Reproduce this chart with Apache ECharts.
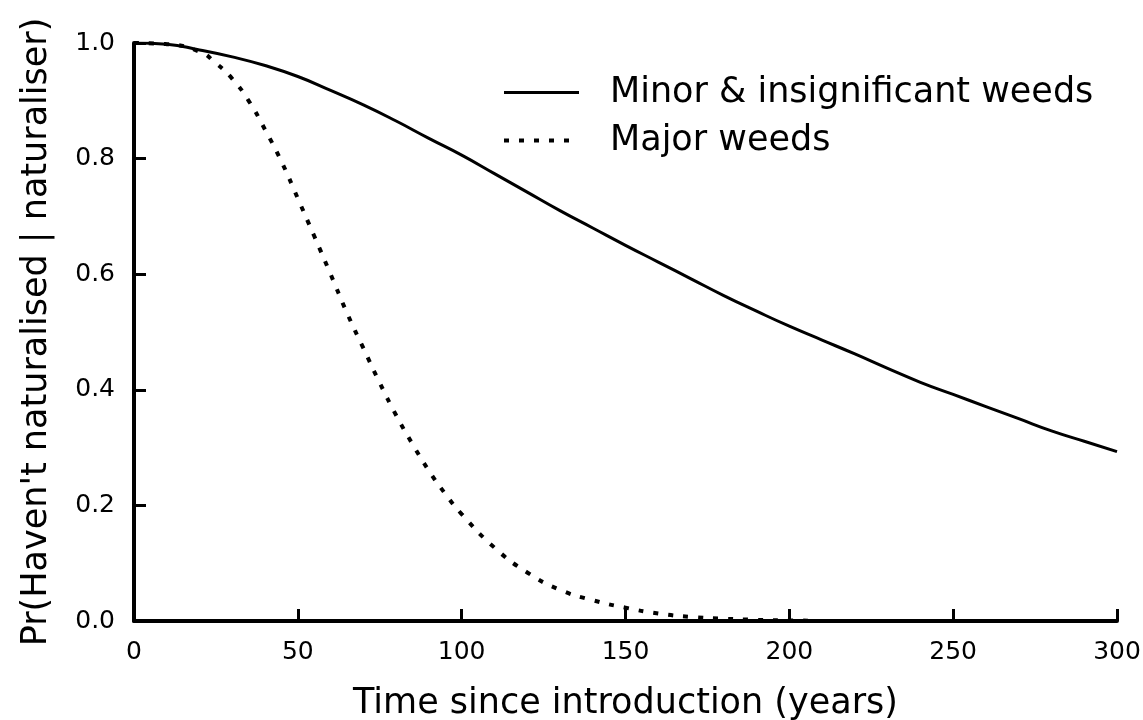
<!DOCTYPE html>
<html>
<head>
<meta charset="utf-8">
<script src="https://cdn.jsdelivr.net/npm/echarts@6/dist/echarts.min.js"></script>
<style>html,body{margin:0;padding:0;background:#fff}#c{width:1143px;height:720px}</style>
</head>
<body>
<div id="c"></div>
<script>
const minorYears = [0,10,20,30,40,50,60,70,80,90,100,110,120,130,140,150,160,170,180,190,200,210,220,230,240,250,260,270,280,290,300];
const minorValues = [1.0,0.998,0.988,0.976,0.961,0.942,0.918,0.893,0.865,0.835,0.806,0.774,0.742,0.710,0.680,0.650,0.621,0.592,0.563,0.536,0.510,0.486,0.462,0.437,0.413,0.392,0.371,0.350,0.329,0.311,0.293];
const majorYears = [0,10,20,25,30,35,40,45,50,55,60,65,70,75,80,85,90,95,100,110,120,130,140,150,160,170,180,190,200,208];
const majorValues = [1.0,0.998,0.985,0.965,0.938,0.900,0.850,0.795,0.731,0.666,0.600,0.533,0.472,0.412,0.356,0.306,0.260,0.220,0.185,0.127,0.084,0.054,0.036,0.023,0.013,0.007,0.004,0.002,0.001,0.0005];
const seriesNames = ['Minor & insignificant weeds', 'Major weeds'];
const xTitle = 'Time since introduction (years)';
const yTitle = "Pr(Haven't naturalised | naturaliser)";

const FONT = 'DejaVu Sans';
const chart = echarts.init(document.getElementById('c'), null, {renderer: 'canvas'});
chart.setOption({
  animation: false,
  backgroundColor: '#fff',
  grid: {left: 134, right: 26, top: 43, bottom: 99, containLabel: false, outerBoundsMode: 'none'},
  legend: {
    orient: 'vertical', left: 497, top: 70,
    itemWidth: 75, itemHeight: 14, itemGap: 13,
    itemStyle: {opacity: 0},
    textStyle: {fontFamily: FONT, fontSize: 35, color: '#000', padding: [0,0,0,26]},
    data: [
      {name: seriesNames[0], lineStyle: {width: 3, color: '#000', type: 'solid'}},
      {name: seriesNames[1], lineStyle: {width: 4, color: '#000', type: [5, 10]}}
    ]
  },
  xAxis: {
    type: 'value', min: 0, max: 300, interval: 50,
    name: xTitle, nameLocation: 'middle', nameGap: 65,
    nameTextStyle: {fontFamily: FONT, fontSize: 35, color: '#000'},
    axisLine: {show: true, lineStyle: {color: '#000', width: 4}},
    axisTick: {show: true, inside: true, length: 12, lineStyle: {color: '#000', width: 3}},
    axisLabel: {fontFamily: FONT, fontSize: 25, color: '#000', margin: 19},
    splitLine: {show: false}
  },
  yAxis: {
    type: 'value', min: 0, max: 1, interval: 0.2,
    name: yTitle, nameLocation: 'middle', nameGap: 80,
    nameTextStyle: {fontFamily: FONT, fontSize: 35, color: '#000'},
    axisLine: {show: true, lineStyle: {color: '#000', width: 4}},
    axisTick: {show: true, inside: true, length: 12, lineStyle: {color: '#000', width: 3}},
    axisLabel: {fontFamily: FONT, fontSize: 25, color: '#000', margin: 19, formatter: v => v.toFixed(1)},
    splitLine: {show: false}
  },
  series: [
    {
      name: seriesNames[0], type: 'line', smooth: true, symbol: 'none',
      lineStyle: {color: '#000', width: 3, type: 'solid'},
      itemStyle: {color: '#000'},
      data: minorYears.map((t, i) => [t, minorValues[i]])
    },
    {
      name: seriesNames[1], type: 'line', smooth: true, symbol: 'none',
      lineStyle: {color: '#000', width: 4, type: [5, 10]},
      itemStyle: {color: '#000'},
      data: majorYears.map((t, i) => [t, majorValues[i]])
    }
  ]
});
</script>
</body>
</html>
